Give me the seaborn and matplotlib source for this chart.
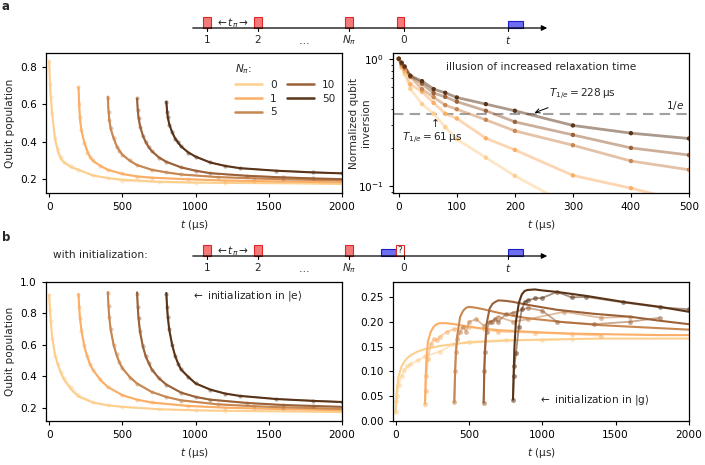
import numpy as np
import pandas as pd
import seaborn as sns
import matplotlib.pyplot as plt
from matplotlib.lines import Line2D
from matplotlib.patches import Rectangle

N_PI = ["0", "1", "5", "10", "50"]
COLORS = ["#fdcf8e", "#fbae66", "#c88650", "#9b6138", "#5a3418"]

# start time of each N_pi trace (us)
START = [0, 200, 400, 600, 800]

# relative times for fits and for measured points
FIT_T = [0, 5, 10, 20, 40, 60, 80, 100, 150, 200, 300, 400, 500, 750, 1000, 1200, 1400, 1600, 1800, 2000]
DOT_T = [0, 5, 10, 20, 40, 60, 80, 100, 150, 200, 300, 400, 500, 750, 1000, 1200]

# panel a, left: qubit population
a_fit_0 = [0.827, 0.716, 0.645, 0.547, 0.41, 0.345, 0.306, 0.29, 0.262, 0.249, 0.218, 0.205, 0.196, 0.185, 0.181, 0.179, 0.178, 0.177, 0.175, 0.173]
a_fit_1 = [0.69, 0.59, 0.52, 0.458, 0.395, 0.35, 0.315, 0.295, 0.27, 0.249, 0.226, 0.214, 0.207, 0.198, 0.192, 0.189, 0.186, 0.184, 0.182]
a_fit_5 = [0.64, 0.565, 0.52, 0.467, 0.417, 0.378, 0.35, 0.33, 0.297, 0.274, 0.249, 0.235, 0.224, 0.21, 0.203, 0.198, 0.195, 0.192]
a_fit_10 = [0.63, 0.565, 0.529, 0.485, 0.431, 0.395, 0.369, 0.349, 0.315, 0.292, 0.262, 0.244, 0.231, 0.217, 0.208, 0.203, 0.199]
a_fit_50 = [0.613, 0.565, 0.529, 0.493, 0.449, 0.417, 0.395, 0.374, 0.342, 0.319, 0.288, 0.27, 0.258, 0.244, 0.235, 0.23]

a_dat_0 = [0.83, 0.71, 0.64, 0.55, 0.42, 0.36, 0.32, 0.29, 0.27, 0.25, 0.22, 0.205, 0.19, 0.182, 0.178, 0.18]
a_dat_1 = [0.69, 0.6, 0.53, 0.46, 0.39, 0.34, 0.32, 0.3, 0.27, 0.25, 0.23, 0.21, 0.205, 0.2, 0.19, 0.188]
a_dat_5 = [0.635, 0.56, 0.515, 0.47, 0.42, 0.37, 0.35, 0.33, 0.3, 0.276, 0.25, 0.236, 0.225, 0.21, 0.204, 0.198]
a_dat_10 = [0.63, 0.57, 0.525, 0.48, 0.43, 0.40, 0.37, 0.35, 0.312, 0.29, 0.263, 0.245, 0.23, 0.216, 0.21, 0.203]
a_dat_50 = [0.61, 0.56, 0.53, 0.49, 0.45, 0.415, 0.395, 0.376, 0.34, 0.32, 0.288, 0.27, 0.257, 0.245, 0.236, 0.23]

# panel a, right: normalized inversion
NORM_T = [0, 5, 10, 20, 40, 60, 80, 100, 150, 200, 300, 400, 500]
norm_0 = [1.0, 0.85, 0.76, 0.58, 0.44, 0.37, 0.29, 0.233, 0.167, 0.12, 0.068, 0.04, 0.025]
norm_1 = [1.0, 0.87, 0.8, 0.63, 0.55, 0.45, 0.37, 0.339, 0.237, 0.192, 0.121, 0.096, 0.074]
norm_5 = [1.0, 0.9, 0.84, 0.72, 0.577, 0.499, 0.432, 0.401, 0.331, 0.271, 0.209, 0.157, 0.134]
norm_10 = [1.0, 0.92, 0.86, 0.73, 0.636, 0.537, 0.502, 0.46, 0.39, 0.319, 0.252, 0.199, 0.175]
norm_50 = [1.0, 0.93, 0.87, 0.735, 0.667, 0.577, 0.54, 0.496, 0.44, 0.39, 0.299, 0.26, 0.236]

# panel b, left: initialization in |e>
be_fit_0 = [0.919, 0.823, 0.755, 0.652, 0.535, 0.47, 0.42, 0.38, 0.315, 0.27, 0.232, 0.215, 0.205, 0.19, 0.183, 0.18, 0.178, 0.176, 0.174, 0.172]
be_fit_1 = [0.925, 0.834, 0.77, 0.695, 0.588, 0.524, 0.471, 0.439, 0.375, 0.332, 0.279, 0.251, 0.232, 0.211, 0.2, 0.195, 0.19, 0.187, 0.184]
be_fit_5 = [0.936, 0.844, 0.776, 0.695, 0.599, 0.535, 0.486, 0.45, 0.396, 0.354, 0.3, 0.268, 0.247, 0.221, 0.209, 0.202, 0.197, 0.192]
be_fit_10 = [0.934, 0.84, 0.77, 0.684, 0.588, 0.524, 0.482, 0.445, 0.386, 0.347, 0.296, 0.268, 0.251, 0.23, 0.217, 0.211, 0.205]
be_fit_50 = [0.93, 0.84, 0.776, 0.695, 0.599, 0.529, 0.482, 0.443, 0.396, 0.354, 0.315, 0.29, 0.275, 0.255, 0.243, 0.236]

be_dat_0 = [0.92, 0.82, 0.75, 0.64, 0.53, 0.48, 0.43, 0.39, 0.33, 0.28, 0.235, 0.215, 0.205, 0.19, 0.182, 0.18]
be_dat_1 = [0.92, 0.84, 0.77, 0.69, 0.6, 0.53, 0.48, 0.44, 0.38, 0.33, 0.28, 0.25, 0.235, 0.21, 0.2, 0.195]
be_dat_5 = [0.93, 0.85, 0.78, 0.7, 0.6, 0.54, 0.49, 0.455, 0.39, 0.35, 0.30, 0.27, 0.245, 0.222, 0.21, 0.2]
be_dat_10 = [0.925, 0.84, 0.77, 0.69, 0.59, 0.53, 0.485, 0.44, 0.39, 0.345, 0.295, 0.27, 0.25, 0.23, 0.215, 0.21]
be_dat_50 = [0.925, 0.84, 0.78, 0.7, 0.6, 0.53, 0.48, 0.445, 0.395, 0.355, 0.315, 0.29, 0.275, 0.255, 0.245, 0.236]

# panel b, right: initialization in |g>
bg_fit_0 = [0.018, 0.05, 0.068, 0.09, 0.11, 0.12, 0.127, 0.132, 0.14, 0.145, 0.151, 0.155, 0.158, 0.162, 0.164, 0.165, 0.166, 0.166, 0.166, 0.166]
bg_fit_1 = [0.035, 0.09, 0.125, 0.16, 0.18, 0.19, 0.195, 0.197, 0.197, 0.195, 0.19, 0.186, 0.183, 0.179, 0.176, 0.175, 0.174, 0.173, 0.173]
bg_fit_5 = [0.038, 0.095, 0.13, 0.172, 0.21, 0.222, 0.228, 0.23, 0.228, 0.225, 0.218, 0.212, 0.207, 0.199, 0.193, 0.19, 0.187, 0.184]
bg_fit_10 = [0.037, 0.11, 0.15, 0.195, 0.226, 0.236, 0.24, 0.243, 0.242, 0.24, 0.234, 0.229, 0.224, 0.216, 0.21, 0.202, 0.195]
bg_fit_50 = [0.043, 0.1, 0.15, 0.2, 0.238, 0.255, 0.262, 0.264, 0.265, 0.263, 0.26, 0.256, 0.252, 0.24, 0.23, 0.22]

bg_dat_0 = [0.018, 0.04, 0.05, 0.072, 0.091, 0.103, 0.11, 0.114, 0.122, 0.13, 0.14, 0.155, 0.16, 0.163, 0.163, 0.165]
bg_dat_1 = [0.035, 0.06, 0.09, 0.125, 0.155, 0.165, 0.163, 0.17, 0.18, 0.185, 0.19, 0.185, 0.18, 0.178, 0.175, 0.172]
bg_dat_5 = [0.038, 0.1, 0.14, 0.165, 0.18, 0.19, 0.18, 0.2, 0.205, 0.192, 0.21, 0.2, 0.205, 0.22, 0.208, 0.21]
bg_dat_10 = [0.037, 0.1, 0.14, 0.18, 0.2, 0.2, 0.205, 0.2, 0.215, 0.218, 0.228, 0.222, 0.2, 0.195, 0.2, 0.208]
bg_dat_50 = [0.043, 0.09, 0.11, 0.136, 0.19, 0.225, 0.24, 0.243, 0.247, 0.248, 0.26, 0.249, 0.25, 0.239, 0.229, 0.225]

a_fits = [a_fit_0, a_fit_1, a_fit_5, a_fit_10, a_fit_50]
a_dats = [a_dat_0, a_dat_1, a_dat_5, a_dat_10, a_dat_50]
norms = [norm_0, norm_1, norm_5, norm_10, norm_50]
be_fits = [be_fit_0, be_fit_1, be_fit_5, be_fit_10, be_fit_50]
be_dats = [be_dat_0, be_dat_1, be_dat_5, be_dat_10, be_dat_50]
bg_fits = [bg_fit_0, bg_fit_1, bg_fit_5, bg_fit_10, bg_fit_50]
bg_dats = [bg_dat_0, bg_dat_1, bg_dat_5, bg_dat_10, bg_dat_50]

FS = 7.6

sns.set_style("ticks")
plt.rcParams["font.family"] = ["DejaVu Sans"]
plt.rcParams["mathtext.fontset"] = "dejavusans"
plt.rcParams["font.size"] = FS
plt.rcParams["axes.linewidth"] = 0.9
plt.rcParams["axes.labelsize"] = FS
for k in ["xtick", "ytick"]:
    plt.rcParams[k + ".labelsize"] = FS
    plt.rcParams[k + ".major.size"] = 3
    plt.rcParams[k + ".major.width"] = 0.8
    plt.rcParams[k + ".minor.size"] = 1.8
    plt.rcParams[k + ".minor.width"] = 0.6
    plt.rcParams[k + ".color"] = "black"
    plt.rcParams[k + ".direction"] = "out"
plt.rcParams["axes.edgecolor"] = "black"

W, H = 705, 465
fig = plt.figure(figsize=(W / 100, H / 100), dpi=100)


def px_axes(l, t, r, b):
    return fig.add_axes([l / W, 1 - b / H, (r - l) / W, (b - t) / H])


def draw_traces(ax, fits, dats, dat_alpha=0.45, dat_lw=1.1, ms=3):
    frames = []
    for i, (f, d) in enumerate(zip(fits, dats)):
        t_fit = [START[i] + r for r in FIT_T[: len(f)]]
        t_dat = [START[i] + r for r in DOT_T[: len(d)]]
        sns.lineplot(x=t_dat, y=d, color=COLORS[i], lw=dat_lw, alpha=dat_alpha,
                     marker="o", markersize=ms, markeredgewidth=0, ax=ax)
        sns.lineplot(x=t_fit, y=f, color=COLORS[i], lw=1.5, ax=ax)
        frames.append(pd.DataFrame({"t": t_fit, "p": f, "N": N_PI[i]}))
    return pd.concat(frames)


# ---------- panel a left
ax1 = px_axes(46, 53, 342, 193)
draw_traces(ax1, a_fits, a_dats)
ax1.set_xlim(-22, 2000)
ax1.set_ylim(0.125, 0.873)
ax1.set_yticks([0.2, 0.4, 0.6, 0.8])
ax1.set_xticks([0, 500, 1000, 1500, 2000])
ax1.set_ylabel("Qubit population")
ax1.set_xlabel("$t$ (µs)")
handles = [Line2D([], [], color=c, lw=1.8) for c in COLORS]
leg = ax1.legend(handles, N_PI, title=r"$N_\pi$:", ncol=2, frameon=False,
                 loc="upper right", bbox_to_anchor=(1.01, 1.0), handlelength=2.5,
                 columnspacing=1.0, labelspacing=0.35, handletextpad=0.8,
                 fontsize=FS, title_fontsize=FS)
leg._legend_box.align = "left"

# ---------- panel a right
ax2 = px_axes(393, 53, 689, 193)
for i, n in enumerate(norms):
    sns.lineplot(x=NORM_T, y=n, color=COLORS[i], lw=2, alpha=0.5, ax=ax2)
    sns.scatterplot(x=NORM_T, y=n, color=COLORS[i], s=10, edgecolor="none", ax=ax2, zorder=3)
ax2.set_yscale("log")
ax2.set_ylim(0.088, 1.11)
ax2.set_xlim(-10, 500)
ax2.set_xticks([0, 100, 200, 300, 400, 500])
ax2.axhline(np.exp(-1), color="#a0a0a0", ls=(0, (5, 3)), lw=1.5, zorder=1)
ax2.set_ylabel("Normalized qubit\ninversion")
ax2.yaxis.set_label_coords(-0.075, 0.5)
ax2.set_xlabel("$t$ (µs)")
ax2.text(246, 0.865, "illusion of increased relaxation time", ha="center", va="center")
ax2.text(492, 0.427, "$1/e$", ha="right", va="center")
ax2.annotate(r"$T_{1/e}=228\,$µs", xy=(234, 0.376), xytext=(258, 0.52),
             ha="left", va="center",
             arrowprops=dict(arrowstyle="->", lw=0.7, color="black", shrinkA=4, shrinkB=0))
ax2.text(59, 0.315, r"$\uparrow$", ha="center", va="center")
ax2.text(5, 0.236, r"$T_{1/e}=61\,$µs", ha="left", va="center")

# ---------- panel b left
ax3 = px_axes(46, 282, 342, 421)
draw_traces(ax3, be_fits, be_dats)
ax3.set_xlim(-22, 2000)
ax3.set_ylim(0.115, 1.0)
ax3.set_yticks([0.2, 0.4, 0.6, 0.8, 1.0])
ax3.set_xticks([0, 500, 1000, 1500, 2000])
ax3.set_ylabel("Qubit population")
ax3.set_xlabel("$t$ (µs)")
ax3.text(0.49, 0.9, r"$\leftarrow$ initialization in $|\mathrm{e}\rangle$",
         transform=ax3.transAxes, ha="left", va="center")

# ---------- panel b right
ax4 = px_axes(393, 282, 689, 421)
draw_traces(ax4, bg_fits, bg_dats, dat_alpha=0.55, dat_lw=1.3, ms=3.5)
ax4.set_xlim(-18, 2000)
ax4.set_ylim(0, 0.28)
ax4.set_yticks([0, 0.05, 0.10, 0.15, 0.20, 0.25])
ax4.set_yticklabels(["0.00", "0.05", "0.10", "0.15", "0.20", "0.25"])
ax4.set_xticks([0, 500, 1000, 1500, 2000])
ax4.set_xlabel("$t$ (µs)")
ax4.set_ylabel("")
ax4.text(0.49, 0.151, r"$\leftarrow$ initialization in $|\mathrm{g}\rangle$",
         transform=ax4.transAxes, ha="left", va="center")

# ---------- pulse sequence sketches (pixel coordinates)
ov = fig.add_axes([0, 0, 1, 1], zorder=-1)
ov.set_xlim(0, W)
ov.set_ylim(H, 0)
ov.axis("off")

RED_F, RED_E = "#f47a7a", "#e02828"
BLUE_F, BLUE_E = "#6e6ef2", "#1e1ec8"


def sequence(y0, init):
    ov.annotate("", xy=(550, y0), xytext=(190, y0),
                arrowprops=dict(arrowstyle="-|>", lw=0.9, color="black", mutation_scale=8))
    for x, lab in zip([207, 258, 349, 404, 508], ["1", "2", r"$N_\pi$", "0", "$t$"]):
        ov.plot([x, x], [y0, y0 + 3], color="black", lw=0.8)
        ov.text(x, y0 + 12, lab, ha="center", va="center", fontsize=FS)
    ov.text(303, y0 + 13, r"$\dots$", ha="center", va="center", fontsize=FS)
    for x in [207, 258, 349]:
        ov.add_patch(Rectangle((x - 4, y0 - 11), 8, 11, fc=RED_F, ec=RED_E, lw=0.8))
    ov.text(232, y0 - 5, r"$\leftarrow t_\pi \rightarrow$", ha="center", va="center", fontsize=FS)
    ov.add_patch(Rectangle((508, y0 - 7), 15, 7, fc=BLUE_F, ec=BLUE_E, lw=0.8))
    if init:
        ov.add_patch(Rectangle((381, y0 - 7), 15, 7, fc=BLUE_F, ec=BLUE_E, lw=0.8))
        ov.add_patch(Rectangle((396, y0 - 11), 8, 11, fc="white", ec=RED_E, lw=0.8))
        ov.text(400, y0 - 5.5, "?", ha="center", va="center", fontsize=6.5)
    else:
        ov.add_patch(Rectangle((397, y0 - 11), 7, 11, fc=RED_F, ec=RED_E, lw=0.8))


sequence(28, False)
sequence(256, True)
ov.text(53, 255, "with initialization:", ha="left", va="center", fontsize=FS)
ov.text(2, 6, "a", ha="left", va="center", fontsize=8.5, fontweight="bold")
ov.text(2, 237, "b", ha="left", va="center", fontsize=8.5, fontweight="bold")

fig.savefig("out.png", dpi=100)
